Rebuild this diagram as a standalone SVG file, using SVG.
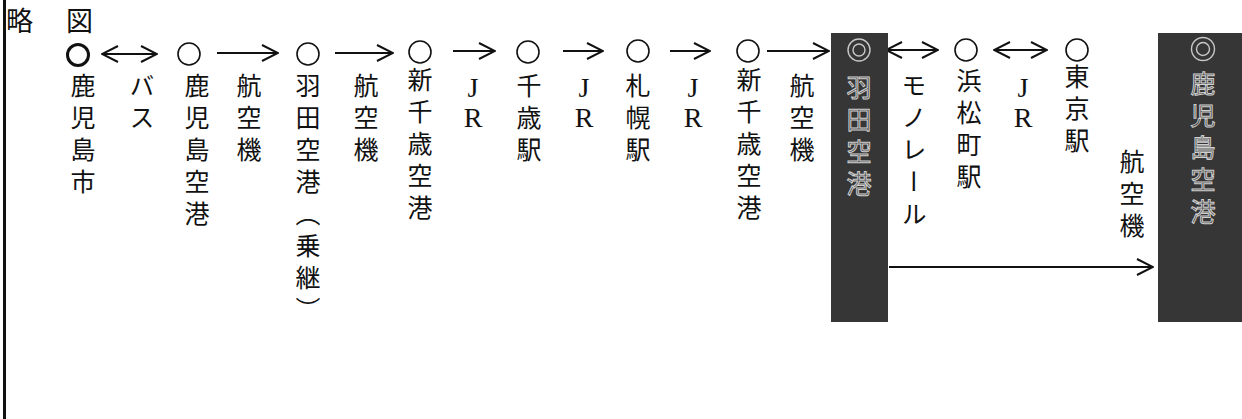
<svg xmlns="http://www.w3.org/2000/svg" width="1242" height="419" viewBox="0 0 1242 419">
<style>
  .v { font-family: "Noto Sans CJK JP", "Noto Sans", sans-serif; font-size: 25px; writing-mode: vertical-rl; letter-spacing: 7px; fill: #111; }
  .vb { font-family: "Noto Sans CJK JP", "Noto Sans", sans-serif; font-size: 25px; writing-mode: vertical-rl; letter-spacing: 7px; fill: #3a3a3a; stroke: #d0d0d0; stroke-width: 1px; }
  .jr { font-family: "Liberation Serif", serif; font-size: 28px; fill: #111; text-anchor: middle; }
  .head { font-family: "Noto Sans CJK JP", "Noto Sans", sans-serif; font-size: 27px; letter-spacing: 3px; fill: #111; }
  .st { fill: none; stroke: #111; stroke-width: 1.6; }
  .box { fill: #363636; }
  .bc { fill: none; stroke: #c8c8c8; stroke-width: 1.4; }
  .ar { fill: none; stroke: #111; stroke-width: 2; }
</style>
<defs>
  <marker id="ah" viewBox="0 0 18 18" refX="17" refY="9" markerWidth="18" markerHeight="18" markerUnits="userSpaceOnUse" orient="auto-start-reverse">
    <path d="M1,1 L17,9 L1,17" fill="none" stroke="#111" stroke-width="2"/>
  </marker>
</defs>
<rect width="1242" height="419" fill="#fff"/>
<line x1="4.5" y1="0" x2="4.5" y2="419" stroke="#111" stroke-width="3"/>
<text class="head" x="6" y="31">略　図</text>

<g id="connectors">
  <line class="ar" x1="102" y1="54" x2="157" y2="54" marker-start="url(#ah)" marker-end="url(#ah)"/>
  <line class="ar" x1="217" y1="53" x2="278" y2="53" marker-end="url(#ah)"/>
  <line class="ar" x1="335" y1="53" x2="393" y2="53" marker-end="url(#ah)"/>
  <line class="ar" x1="453" y1="51" x2="495" y2="51" marker-end="url(#ah)"/>
  <line class="ar" x1="563" y1="51" x2="603" y2="51" marker-end="url(#ah)"/>
  <line class="ar" x1="670" y1="51" x2="710" y2="51" marker-end="url(#ah)"/>
  <line class="ar" x1="767" y1="51" x2="829" y2="51" marker-end="url(#ah)"/>
  <line class="ar" x1="886" y1="50" x2="938" y2="50" marker-start="url(#ah)" marker-end="url(#ah)"/>
  <line class="ar" x1="994" y1="50" x2="1047" y2="50" marker-start="url(#ah)" marker-end="url(#ah)"/>
  <line class="ar" x1="889" y1="267" x2="1153" y2="267" marker-end="url(#ah)"/>
  <text class="v" x="142" y="73">バス</text>
  <text class="v" x="249" y="73">航空機</text>
  <text class="v" x="366" y="73">航空機</text>
  <text class="jr"><tspan x="473" y="97">J</tspan><tspan x="473" y="127">R</tspan></text>
  <text class="jr"><tspan x="584" y="97">J</tspan><tspan x="584" y="127">R</tspan></text>
  <text class="jr"><tspan x="693" y="97">J</tspan><tspan x="693" y="127">R</tspan></text>
  <text class="v" x="802" y="73">航空機</text>
  <text class="v" x="914" y="73">モノレール</text>
  <text class="jr"><tspan x="1023" y="97">J</tspan><tspan x="1023" y="127">R</tspan></text>
  <text class="v" x="1132" y="149">航空機</text>
</g>

<g id="n-kagoshima-city">
  <circle cx="78" cy="55" r="10.5" fill="none" stroke="#111" stroke-width="3"/>
  <text class="v" x="83" y="73">鹿児島市</text>
</g>
<g id="n-kagoshima-airport">
  <circle class="st" cx="189" cy="54" r="11"/>
  <text class="v" x="197" y="73">鹿児島空港</text>
</g>
<g id="n-haneda-transfer">
  <circle class="st" cx="308" cy="54" r="11"/>
  <text class="v" x="308" y="73">羽田空港（乗継）</text>
</g>
<g id="n-new-chitose-1">
  <circle class="st" cx="420" cy="52" r="11"/>
  <text class="v" x="420" y="67">新千歳空港</text>
</g>
<g id="n-chitose-station">
  <circle class="st" cx="528" cy="52" r="11"/>
  <text class="v" x="529" y="73">千歳駅</text>
</g>
<g id="n-sapporo-station">
  <circle class="st" cx="638" cy="51" r="11"/>
  <text class="v" x="638" y="73">札幌駅</text>
</g>
<g id="n-new-chitose-2">
  <circle class="st" cx="748" cy="51" r="11"/>
  <text class="v" x="749" y="67">新千歳空港</text>
</g>
<g id="n-haneda">
  <rect class="box" x="831" y="33" width="57" height="289"/>
  <circle class="bc" cx="859" cy="50" r="11"/>
  <circle class="bc" cx="859" cy="50" r="6"/>
  <text class="vb" x="859" y="75">羽田空港</text>
</g>
<g id="n-hamamatsucho">
  <circle class="st" cx="966" cy="50" r="11"/>
  <text class="v" x="969" y="68">浜松町駅</text>
</g>
<g id="n-tokyo-station">
  <circle class="st" cx="1077" cy="50" r="11"/>
  <text class="v" x="1077" y="64">東京駅</text>
</g>
<g id="n-kagoshima-airport-2">
  <rect class="box" x="1158" y="33" width="84" height="289"/>
  <circle class="bc" cx="1203" cy="49" r="11.5"/>
  <circle class="bc" cx="1203" cy="49" r="6.5"/>
  <text class="vb" x="1203" y="71">鹿児島空港</text>
</g>
</svg>
